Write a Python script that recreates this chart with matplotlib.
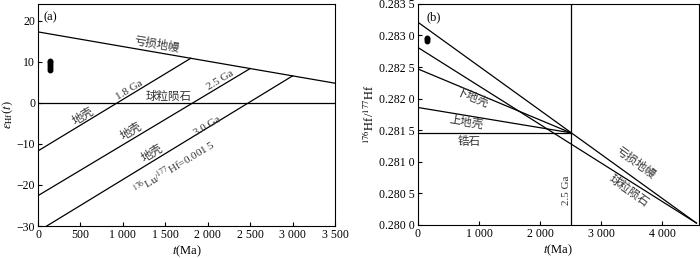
import numpy as np
import matplotlib
matplotlib.use("Agg")
import matplotlib.pyplot as plt

plt.rcParams['font.family'] = ['Liberation Serif', 'DejaVu Serif']
plt.rcParams['mathtext.fontset'] = 'stix'
CJK = ['Noto Sans CJK SC', 'DejaVu Sans']

# ---------------- data: panel (a) ----------------
dm_eps_t = [0, 3500]
dm_eps = [17.3, 4.8]               # depleted mantle epsilon at t=0 and t=3500
crust_ages = [1800, 2500, 3000]     # model ages (Ma)
crust_eps0 = [-11.7, -22.6, -31.3]  # epsilon at t=0 for each crust evolution line
sample_t_a = [138, 140, 142, 139, 141, 140]
sample_eps = [8.1, 8.6, 9.1, 9.6, 10.0, 10.3]
xticks_a = [0, 500, 1000, 1500, 2000, 2500, 3000, 3500]
xticklabels_a = ['0', '500', '1 000', '1 500', '2 000', '2 500', '3 000', '3 500']
yticks_a = [-30, -20, -10, 0, 10, 20]
yticklabels_a = ['−30', '−20', '−10', '0', '10', '20']

# ---------------- data: panel (b) ----------------
t_earth = 4560
hf_earth = 0.28003
dm_hf0 = 0.28321
chur_hf0 = 0.28281
t_crust = 2500
hf_crust_end = 0.28146
crust_hf0 = [0.28247, 0.28186, 0.28146]   # lower crust, upper crust, zircon
sample_t_b = [150, 150, 150]
sample_hf = [0.28292, 0.28294, 0.28296]
xticks_b = [0, 1000, 2000, 3000, 4000]
xticklabels_b = ['0', '1 000', '2 000', '3 000', '4 000']
yticks_b = [0.2800, 0.2805, 0.2810, 0.2815, 0.2820, 0.2825, 0.2830, 0.2835]
yticklabels_b = ['0.280 0', '0.280 5', '0.281 0', '0.281 5', '0.282 0', '0.282 5', '0.283 0', '0.283 5']

fig = plt.figure(figsize=(7.0, 2.58), dpi=100)
axa = fig.add_axes([0.0543, 0.124, 0.4243, 0.8605])
axb = fig.add_axes([0.597, 0.128, 0.4014, 0.857])

lw = 0.9
tc = '#333333'
cfs = 8.3
lfs = 8

def screen_angle(ax, p0, p1):
    a = ax.transData.transform(p0)
    b = ax.transData.transform(p1)
    return np.degrees(np.arctan2(b[1] - a[1], b[0] - a[0]))

# ---------- panel (a) ----------
axa.set_xlim(0, 3500)
axa.set_ylim(-30, 24.1)
axa.plot(dm_eps_t, dm_eps, color='k', lw=lw)
axa.axhline(0, color='k', lw=lw)
slope_dm = (dm_eps[1] - dm_eps[0]) / (dm_eps_t[1] - dm_eps_t[0])
for T, e0 in zip(crust_ages, crust_eps0):
    eT = dm_eps[0] + slope_dm * T
    axa.plot([0, T], [e0, eT], color='k', lw=lw)
axa.plot(sample_t_a, sample_eps, 'o', color='k', ms=3.2)

axa.set_xticks(xticks_a)
axa.set_xticklabels(xticklabels_a)
axa.set_yticks(yticks_a)
axa.set_yticklabels(yticklabels_a)
axa.tick_params(direction='in', length=3, labelsize=8.5, colors='k', pad=2)
axa.set_xlabel(r'$t$(Ma)', fontsize=9, labelpad=2)
axa.set_ylabel(r'$\varepsilon_{\mathrm{Hf}}(t)$', fontsize=9, labelpad=1)
axa.text(0.02, 0.965, '(a)', transform=axa.transAxes, fontsize=9, va='top')

fig.canvas.draw()
ang_dm_a = screen_angle(axa, (0, dm_eps[0]), (3500, dm_eps[1]))
ang_c = screen_angle(axa, (0, crust_eps0[0]), (crust_ages[0], dm_eps[0] + slope_dm * crust_ages[0]))
axa.text(1400, 14.2, '亏损地幔', family=CJK, fontsize=cfs, rotation=ang_dm_a,
         ha='center', va='center', color=tc)
axa.text(1075, 3.2, '1.8 Ga', fontsize=lfs, rotation=ang_c, ha='center', va='center', color=tc)
axa.text(1540, 1.6, '球粒陨石', family=CJK, fontsize=cfs, ha='center', va='center', color=tc)
axa.text(2150, 5.4, '2.5 Ga', fontsize=lfs, rotation=ang_c, ha='center', va='center', color=tc)
axa.text(1990, -5.7, '3.0 Ga', fontsize=lfs, rotation=ang_c, ha='center', va='center', color=tc)
axa.text(530, -3.2, '地壳', family=CJK, fontsize=cfs, rotation=ang_c, ha='center', va='center', color=tc)
axa.text(1100, -6.8, '地壳', family=CJK, fontsize=cfs, rotation=ang_c, ha='center', va='center', color=tc)
axa.text(1345, -12.2, '地壳', family=CJK, fontsize=cfs, rotation=ang_c, ha='center', va='center', color=tc)
axa.text(1605, -15.5, r'$^{176}$Lu/$^{177}$Hf=0.001 5', fontsize=lfs, rotation=ang_c,
         ha='center', va='center', color=tc)

# ---------- panel (b) ----------
axb.set_xlim(0, 4600)
axb.set_ylim(0.2800, 0.2835)
axb.plot([0, t_earth], [dm_hf0, hf_earth], color='k', lw=lw)
axb.plot([0, t_earth], [chur_hf0, hf_earth], color='k', lw=lw)
for h0 in crust_hf0:
    axb.plot([0, t_crust], [h0, hf_crust_end], color='k', lw=lw)
axb.axvline(t_crust, color='k', lw=lw)
axb.plot(sample_t_b, sample_hf, 'o', color='k', ms=3.2)

axb.set_xticks(xticks_b)
axb.set_xticklabels(xticklabels_b)
axb.set_yticks(yticks_b)
axb.set_yticklabels(yticklabels_b)
axb.tick_params(direction='in', length=3, labelsize=8.5, colors='k', pad=2)
axb.set_xlabel(r'$t$(Ma)', fontsize=9, labelpad=2)
axb.set_ylabel(r'$^{176}$Hf/$^{177}$Hf', fontsize=9, labelpad=2)
axb.text(0.03, 0.965, '(b)', transform=axb.transAxes, fontsize=9, va='top')

fig.canvas.draw()
ang_dm_b = screen_angle(axb, (t_crust, hf_crust_end), (t_earth, hf_earth))
ang_lc = screen_angle(axb, (0, crust_hf0[0]), (t_crust, hf_crust_end))
ang_uc = screen_angle(axb, (0, crust_hf0[1]), (t_crust, hf_crust_end))
axb.text(3560, 0.28099, '亏损地幔', family=CJK, fontsize=cfs, rotation=ang_dm_b,
         ha='center', va='center', color=tc)
axb.text(3450, 0.28055, '球粒陨石', family=CJK, fontsize=cfs, rotation=ang_dm_b,
         ha='center', va='center', color=tc)
axb.text(885, 0.28202, '下地壳', family=CJK, fontsize=cfs, rotation=ang_lc,
         ha='center', va='center', color=tc)
axb.text(785, 0.28163, '上地壳', family=CJK, fontsize=cfs, rotation=ang_uc,
         ha='center', va='center', color=tc)
axb.text(835, 0.28132, '锆石', family=CJK, fontsize=cfs, ha='center', va='center', color=tc)
axb.text(2440, 0.28055, '2.5 Ga', fontsize=lfs, rotation=90, ha='center', va='center', color=tc)

fig.savefig('out.png', dpi=100)
